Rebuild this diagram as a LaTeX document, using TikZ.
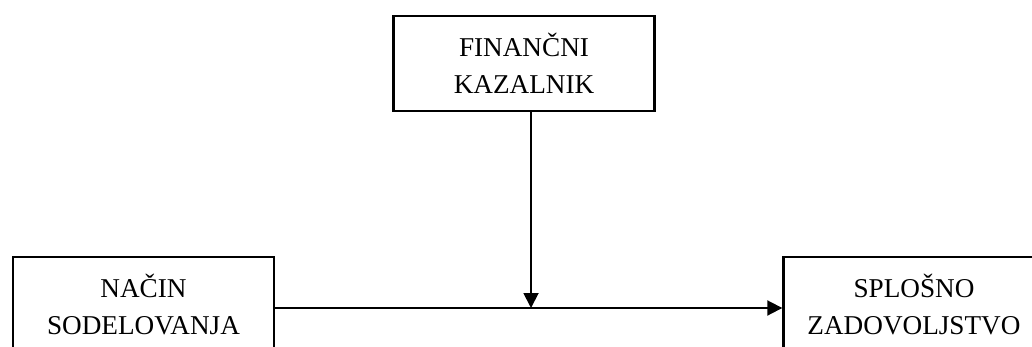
\documentclass[tikz,border=0pt]{standalone}
\usepackage{fontspec}
\setmainfont{Liberation Serif}
\usetikzlibrary{arrows.meta, positioning}

\begin{document}
\begin{tikzpicture}[x=0.5pt, y=-0.5pt, node distance=385.25pt, auto]
    % Define the style for the nodes
    \tikzstyle{block} = [rectangle, draw, line width=1.2pt, align=center, minimum width=130.5pt, minimum height=47.5pt, inner sep=0pt, font=\fontsize{13.6pt}{18.5pt}\selectfont]
    \tikzstyle{line} = [draw, -{Triangle[length=7.5pt, width=7.5pt]}, line width=0.95pt]

    % Page frame, the lower boxes run off its edges
    \clip (0,0) rectangle (1032,347);

    % Place the nodes
    \node [block] (kazalnik) at (524,63.5) {FINANČNI\\KAZALNIK};
    \node [block] (nacin) at (143.5,304.5) {NAČIN\\SODELOVANJA};
    \node [block, right of=nacin] (zadovoljstvo) {SPLOŠNO\\ZADOVOLJSTVO};

    % Connect the nodes with paths
    \path [line] ([yshift=-1.75pt]nacin.east) -- ([yshift=-1.75pt]zadovoljstvo.west);
    \path [line] ([xshift=3.5pt]kazalnik.south) -- ([xshift=3.5pt,yshift=-1.75pt]kazalnik.south |- nacin.east);

\end{tikzpicture}
\end{document}
